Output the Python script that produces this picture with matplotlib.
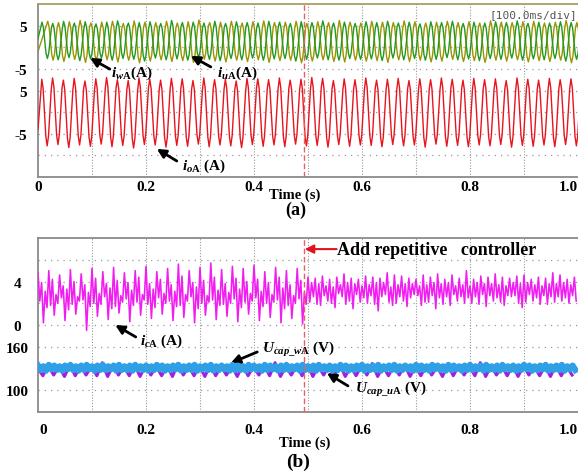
import numpy as np
import matplotlib
matplotlib.use("Agg")
import matplotlib.pyplot as plt
import matplotlib.transforms as mtrans

plt.rcParams['font.family'] = ['Liberation Serif', 'DejaVu Serif']
plt.rcParams['font.weight'] = 'bold'
plt.rcParams['mathtext.fontset'] = 'custom'
plt.rcParams['mathtext.rm'] = 'Liberation Serif:bold'
plt.rcParams['mathtext.it'] = 'Liberation Serif:italic:bold'
plt.rcParams['mathtext.bf'] = 'Liberation Serif:bold'

# ---------------- data ----------------
period = 0.02          # 50 Hz fundamental

# shape of one cycle (peak -> trough -> back), 8 samples per cycle
cycle_shape = [1.0, 0.72, 0.0, -0.72, -1.0, -0.70, 0.0, 0.70]

# (a) output current i_oA (A): peaks and troughs of each cycle
ioA_start = -4.0
ioA_peaks = [7.6, 7.9, 7.4, 7.8, 7.2, 7.7, 8.0, 7.5, 7.3, 7.9,
             7.6, 7.4, 7.8, 7.7, 7.3, 7.9, 7.5, 7.6, 7.2, 7.8,
             7.7, 7.5, 7.9, 7.4, 7.6, 8.0, 7.8, 7.3, 7.7, 7.5,
             7.9, 7.4, 7.6, 7.8, 7.3, 7.7, 7.5, 7.9, 7.6, 7.4,
             7.8, 7.5, 7.7, 7.3, 7.9, 7.6, 7.4, 7.8, 7.5, 7.7]
ioA_troughs = [-7.8, -7.5, -8.2, -7.6, -7.9, -7.4, -8.0, -7.7, -8.3, -7.5,
               -7.6, -8.1, -7.7, -7.9, -7.4, -8.0, -7.6, -7.8, -8.2, -7.5,
               -7.9, -7.6, -8.0, -7.4, -7.8, -7.7, -8.1, -7.5, -7.9, -7.6,
               -7.7, -8.0, -7.5, -7.8, -7.6, -8.1, -7.4, -7.9, -7.7, -8.0,
               -7.6, -7.8, -7.5, -8.1, -7.7, -7.9, -7.6, -8.0, -7.5, -7.8]

# (a) arm currents i_wA (green) and i_uA (olive) (A)
iwA_peaks = [5.8, 5.5, 6.0, 5.6, 5.9, 5.4, 5.8, 6.1, 5.6, 5.7,
             5.9, 5.5, 6.2, 5.7, 5.8, 5.6, 6.0, 5.5, 5.9, 5.7,
             5.6, 6.0, 5.8, 5.5, 5.9, 5.7, 6.1, 5.6, 5.8, 5.5,
             5.9, 5.7, 6.0, 5.6, 5.8, 5.4, 5.9, 5.7, 6.0, 5.5,
             5.8, 5.6, 5.9, 5.7, 6.1, 5.5, 5.8, 5.6, 5.9, 5.7]
iwA_troughs = [-2.6, -2.9, -2.4, -3.1, -2.7, -2.5, -3.0, -2.6, -2.8, -3.2,
               -2.5, -2.9, -2.7, -3.0, -2.4, -2.8, -3.1, -2.6, -2.9, -2.5,
               -3.0, -2.7, -2.6, -3.2, -2.8, -2.5, -2.9, -3.0, -2.6, -2.8,
               -2.7, -3.1, -2.5, -2.9, -2.6, -3.0, -2.8, -2.4, -2.9, -2.7,
               -3.1, -2.6, -2.8, -2.5, -3.0, -2.7, -2.9, -2.6, -3.2, -2.8]
iuA_peaks = [6.0, 5.7, 5.9, 6.2, 5.6, 5.8, 6.0, 5.5, 6.1, 5.8,
             5.7, 6.0, 5.6, 5.9, 6.3, 5.7, 5.8, 6.0, 5.6, 5.9,
             6.1, 5.7, 5.8, 6.0, 5.5, 5.9, 5.7, 6.2, 5.8, 5.6,
             6.0, 5.8, 5.7, 6.1, 5.9, 5.6, 5.8, 6.0, 5.7, 5.9,
             5.6, 6.1, 5.8, 5.7, 5.9, 6.0, 5.6, 5.8, 6.2, 5.7]
iuA_troughs = [-3.0, -3.3, -2.8, -3.5, -3.1, -2.9, -3.4, -3.0, -3.6, -3.2,
               -2.9, -3.3, -3.1, -3.5, -2.8, -3.2, -3.4, -3.0, -3.3, -2.9,
               -3.5, -3.1, -3.0, -3.6, -3.2, -2.9, -3.3, -3.4, -3.0, -3.2,
               -3.1, -3.5, -2.9, -3.3, -3.0, -3.4, -3.2, -2.8, -3.3, -3.1,
               -3.5, -3.0, -3.2, -2.9, -3.4, -3.1, -3.3, -3.0, -3.6, -3.2]

# (b) circulating current i_cA (A), 6 samples per cycle
icA = [4.8, 2.2, 3.9, 0.2, 3.1, 1.6,  5.0, 1.8, 4.2, 0.9, 2.8, 2.0,
       4.6, 2.5, 3.6, 0.4, 3.3, 1.4,  5.1, 1.9, 4.0, 1.0, 2.6, 2.2,
       4.7, 2.3, 3.7, -0.5, 3.0, 1.7, 5.2, 2.0, 4.3, 0.8, 2.9, 1.9,
       4.9, 2.6, 3.8, 0.5, 3.4, 1.5,  5.3, 1.7, 4.1, 1.1, 2.7, 2.1,
       4.8, 2.4, 3.9, 0.3, 3.2, 1.8,  5.0, 2.1, 4.4, 0.9, 2.8, 2.3,
       5.4, 1.9, 3.8, 0.6, 3.3, 1.6,  4.9, 2.5, 4.2, 1.0, 2.9, 2.0,
       5.2, 2.2, 3.7, 0.4, 3.1, 1.7,  5.6, 1.8, 4.5, 0.7, 2.8, 2.2,
       5.0, 2.6, 3.9, 0.2, 3.5, 1.5,  5.3, 2.0, 4.1, 0.9, 2.7, 2.1,
       5.7, 2.3, 4.4, 0.5, 3.2, 1.8,  5.1, 1.9, 3.8, 0.8, 3.0, 2.0,
       5.4, 2.4, 4.3, 0.3, 3.3, 1.6,  5.2, 2.1, 4.0, 1.0, 2.9, 2.2,
       5.5, 2.5, 4.2, 0.4, 3.1, 1.7,  4.9, 2.0, 3.9, 0.7, 2.8, 2.1,
       5.3, 2.3, 4.4, 0.2, 3.4, 1.5,  5.0, 1.8, 3.7, 0.6, 2.7, 2.0,
       5.2, 2.4, 4.1, 0.1, 3.0, 1.9,
       4.4, 2.1, 3.9, 2.6, 4.3, 1.9,  3.8, 1.8, 4.5, 2.7, 3.6, 2.2,
       4.2, 2.0, 3.5, 1.6, 4.4, 2.9,  3.7, 2.6, 4.7, 1.9, 3.9, 2.2,
       4.3, 1.5, 3.8, 2.8, 4.2, 2.1,  3.6, 2.5, 4.5, 2.0, 3.7, 2.7,
       4.4, 1.9, 3.9, 1.3, 4.3, 2.6,  3.9, 2.8, 4.8, 2.1, 3.5, 1.8,
       4.6, 2.0, 3.7, 2.6, 4.5, 2.2,  3.8, 1.7, 4.3, 2.5, 3.8, 2.8,
       4.2, 2.7, 3.6, 1.8, 4.6, 2.1,  3.7, 2.1, 4.4, 2.7, 3.9, 1.5,
       4.7, 2.5, 3.8, 1.9, 4.2, 2.6,  3.9, 1.8, 4.6, 2.8, 3.6, 2.2,
       4.3, 2.6, 3.7, 2.0, 5.0, 2.5,  3.6, 2.0, 4.2, 2.6, 3.9, 1.9,
       4.5, 2.8, 3.8, 1.7, 4.4, 2.7,  3.8, 2.2, 4.7, 2.5, 3.7, 2.1,
       4.4, 1.8, 3.6, 2.7, 4.3, 2.6,  3.9, 2.7, 4.5, 2.0, 3.8, 1.6,
       4.6, 2.1, 3.9, 2.8, 4.2, 2.2,  3.7, 2.5, 4.4, 1.9, 3.6, 2.7,
       4.3, 1.9, 3.8, 2.6, 4.8, 2.1,  3.8, 2.6, 4.6, 2.2, 3.9, 2.5,
       4.2, 2.0, 3.7, 2.7, 4.4, 2.2]

# (b) capacitor voltages (V)
ucap_wA = [134, 128, 133, 127, 135, 129, 134, 128, 133, 127, 134, 129, 135, 128, 133, 127,
           134, 128, 135, 129, 133, 127, 134, 128, 135, 128, 133, 129, 134, 127, 135, 128,
           133, 128, 134, 127, 135, 129, 133, 128, 134, 127, 133, 128, 135, 129, 134, 127,
           133, 128, 134, 129, 135, 127, 133, 128, 134, 128, 135, 127, 133, 129, 134, 128,
           135, 127, 133, 128, 134, 129, 133, 127, 135, 128, 134, 128, 133, 127, 135, 129,
           134, 128, 133, 127, 135, 128, 134, 129, 133, 127, 134, 128, 135, 128, 133, 129,
           134, 127, 135, 128, 133, 128, 134, 127, 135, 129, 133, 128, 134, 127, 133, 128,
           135, 129, 134, 127, 133, 128, 134, 129, 135, 127, 133, 128, 134, 128, 135, 127,
           133, 129, 134, 128, 135, 127, 133, 128, 134, 129, 133, 127, 135, 128, 134, 128,
           133, 127, 135, 129, 134, 128, 133, 127, 135, 128, 134, 129, 133, 127, 134, 128,
           135, 128, 133, 129, 134, 127, 135, 128, 133, 128, 134, 127, 135, 129, 133, 128,
           134, 127, 133, 128, 135, 129, 134, 127, 133, 128, 134, 129, 135, 127, 133, 128,
           134, 128, 135, 127, 133, 129, 134, 128]
ucap_uA = [130, 120, 134, 121, 133, 119, 135, 120, 134, 121, 133, 120, 138, 119, 134, 121,
           133, 120, 135, 119, 134, 121, 133, 120, 134, 119, 137, 121, 133, 120, 134, 119,
           135, 120, 133, 121, 134, 119, 135, 120, 133, 121, 134, 120, 138, 119, 133, 121,
           134, 120, 135, 119, 133, 121, 134, 120, 135, 119, 133, 120, 134, 121, 137, 119,
           133, 120, 134, 121, 135, 119, 133, 120, 134, 121, 133, 119, 135, 120, 134, 121,
           133, 120, 138, 119, 134, 121, 133, 120, 135, 119, 134, 121, 133, 120, 134, 119,
           135, 120, 133, 121]

x_ticks = [0, 0.2, 0.4, 0.6, 0.8, 1.0]
x_tick_labels = ['0', '0.2', '0.4', '0.6', '0.8', '1.0']
a_tick_divs = [7, 5, 4, 2]
a_tick_labels = ['5', '-5', '5', '-5']
b_tick_divs = [6, 4, 3, 1]
b_tick_labels = ['4', '0', '160', '100']
rc_time = 0.493   # moment the repetitive controller is added

# ---------------- helpers ----------------
def shaped_series(first_peak, peaks, troughs, start):
    t, v = [0.0], [start]
    n = len(cycle_shape)
    for k in range(len(peaks)):
        mid = (peaks[k] + troughs[k]) / 2
        half = (peaks[k] - troughs[k]) / 2
        for j, s in enumerate(cycle_shape):
            t.append(first_peak + k * period + j * period / n)
            v.append(mid + s * half)
    return np.array(t), np.array(v)

W, H = 578, 477
fig = plt.figure(figsize=(W / 100, H / 100), dpi=100)
ax_a = fig.add_axes([38 / W, 1 - 178 / H, 540 / W, 173 / H])
ax_b = fig.add_axes([38 / W, 1 - 413 / H, 540 / W, 174 / H])

grid_col = '#9a9a9a'
for ax in (ax_a, ax_b):
    ax.set_xlim(0, 1.0)
    ax.set_ylim(0, 8)
    for xv in np.arange(1, 10) / 10:
        ax.axvline(xv, color=grid_col, lw=0.8, ls=(0, (1, 1.5)), zorder=0)
    for yv in range(1, 8):
        ax.axhline(yv, color=grid_col, lw=0.9, ls=(0, (1, 4)), zorder=0)
    ax.tick_params(length=0, labelsize=11)
    for s in ax.spines.values():
        s.set_color('#8a8a8a'); s.set_linewidth(1.3)
    ax.spines['right'].set_visible(False)
    ax.set_xticks(x_ticks, x_tick_labels)
    for lab in ax.get_xticklabels():
        lab.set_fontweight('bold')
    last = ax.get_xticklabels()[-1]
    last.set_horizontalalignment('right')
    ax.axvline(rc_time, color='#e86060', lw=1.0, ls=(0, (4, 2)), zorder=5)

ax_a.spines['top'].set_color('#a8a060')

# ---- panel (a) ----
t, v = shaped_series(0.0074, iwA_peaks, iwA_troughs, start=2.0)
ax_a.plot(t, 6 + v / 5, color='#1f9a1f', lw=1.0, zorder=3)
t, v = shaped_series(0.018, iuA_peaks, iuA_troughs, start=-1.0)
ax_a.plot(t, 6 + v / 5, color='#9c9400', lw=1.0, zorder=2)
t, v = shaped_series(0.007, ioA_peaks, ioA_troughs, start=ioA_start)
ax_a.plot(t, 3 + v / 5, color='#e8141e', lw=1.0, zorder=3)

ax_a.set_yticks(a_tick_divs, a_tick_labels)
ax_a.tick_params(axis='y', pad=8)
ax_a.tick_params(axis='x', pad=2)

ax_a.text(0.998, 7.55, '[100.0ms/div]', family='DejaVu Sans Mono', fontweight='normal',
          fontsize=8, color='#555555', ha='right', va='center')

arrow_k = dict(arrowstyle='-|>', color='black', lw=2.0, mutation_scale=13, shrinkA=0, shrinkB=0)
ax_a.annotate('', xy=(0.0963, 5.50), xytext=(0.133, 4.99), arrowprops=arrow_k)
ax_a.text(0.135, 4.85, r'$i_{w\mathrm{A}}$(A)', fontsize=11, ha='left', va='center')
ax_a.annotate('', xy=(0.283, 5.60), xytext=(0.320, 5.09), arrowprops=arrow_k)
ax_a.text(0.331, 4.85, r'$i_{u\mathrm{A}}$(A)', fontsize=11, ha='left', va='center')
ax_a.annotate('', xy=(0.220, 1.30), xytext=(0.257, 0.74), arrowprops=arrow_k)
ax_a.text(0.267, 0.55, r'$i_{o\mathrm{A}}$ (A)', fontsize=11, ha='left', va='center')

# ---- panel (b) ----
t_ic = np.arange(len(icA)) * period / 6
ax_b.plot(t_ic, 4 + np.array(icA) / 2, color='#f01ef0', lw=1.15, zorder=3)
t_uu = np.arange(len(ucap_uA)) * period / 2 + 0.009 - period / 2
t_uu[0] = 0.0
ax_b.plot(t_uu, 1 + (np.array(ucap_uA) - 100) / 30, color='#a020e0', lw=2.2, zorder=3)
t_uw = np.arange(len(ucap_wA)) * period / 4
ax_b.plot(t_uw, 1 + (np.array(ucap_wA) - 100) / 30, color='#2fa0e6', lw=4.5, zorder=4)

ax_b.set_yticks(b_tick_divs, b_tick_labels)
for lab in ax_b.get_yticklabels():
    lab.set_horizontalalignment('center')
ax_b.tick_params(axis='y', pad=15)
ax_b.tick_params(axis='x', pad=8)
first = ax_b.get_xticklabels()[0]
first.set_transform(first.get_transform() + mtrans.ScaledTranslation(5 / 100, 0, fig.dpi_scale_trans))

ax_b.annotate('', xy=(0.143, 4.0), xytext=(0.181, 3.45), arrowprops=arrow_k)
ax_b.text(0.189, 3.3, r'$i_{c\mathrm{A}}$ (A)', fontsize=11, ha='left', va='center')
ax_b.annotate('', xy=(0.357, 2.25), xytext=(0.406, 2.76), arrowprops=arrow_k)
ax_b.text(0.415, 2.9, r'$U_{cap\_w\mathrm{A}}$ (V)', fontsize=11, ha='left', va='center')
ax_b.annotate('', xy=(0.535, 1.79), xytext=(0.574, 1.20), arrowprops=arrow_k)
ax_b.text(0.587, 1.06, r'$U_{cap\_u\mathrm{A}}$ (V)', fontsize=11, ha='left', va='center')

ax_b.annotate('', xy=(0.494, 7.49), xytext=(0.553, 7.49),
              arrowprops=dict(arrowstyle='-|>', color='#e0141e', lw=1.5, mutation_scale=13,
                              shrinkA=0, shrinkB=0), zorder=6)
ax_b.text(0.553, 7.49, 'Add repetitive   controller', fontsize=13, ha='left', va='center')

# axis titles
fig.text(294.5 / W, 1 - 195 / H, 'Time (s)', fontsize=10.5, ha='center', va='center')
fig.text(296 / W, 1 - 210 / H, '(a)', fontsize=13, ha='center', va='center')
fig.text(305 / W, 1 - 443 / H, 'Time (s)', fontsize=10.5, ha='center', va='center')
fig.text(298 / W, 1 - 462 / H, '(b)', fontsize=14, ha='center', va='center')

fig.savefig('out.png', dpi=100)
